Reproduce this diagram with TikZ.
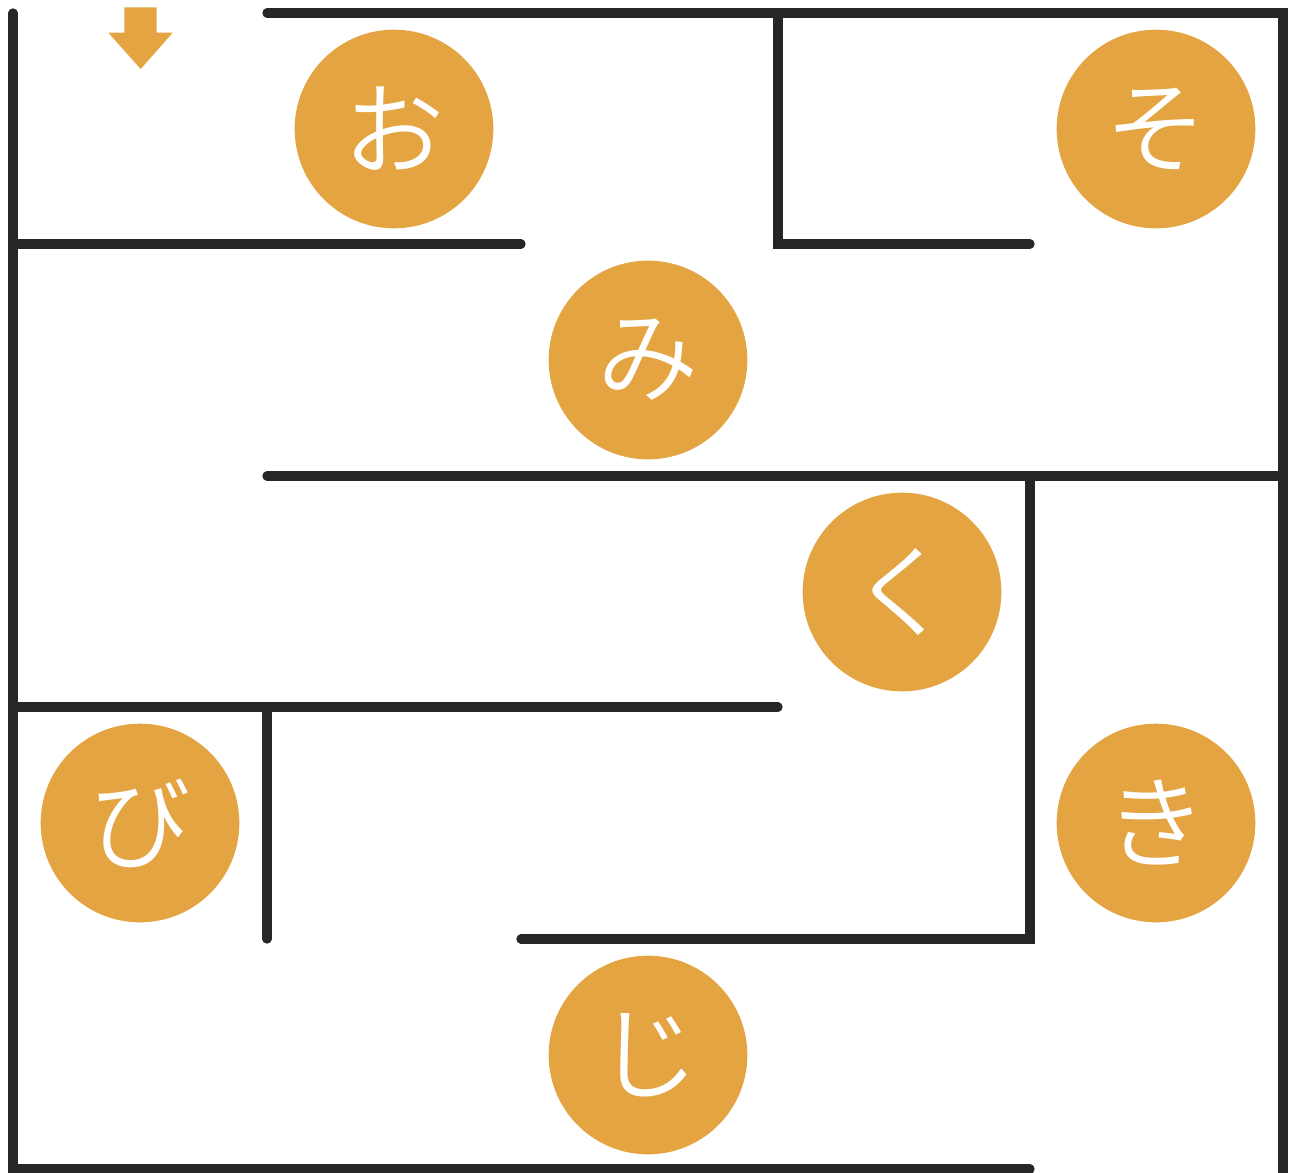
\documentclass[tikz,border=0pt]{standalone}
\usepackage{fontspec}
\IfFontExistsTF{Noto Sans CJK JP DemiLight}
  {\newfontfamily\jpfont{Noto Sans CJK JP DemiLight}}
  {\IfFontExistsTF{Noto Sans CJK JP Light}
    {\newfontfamily\jpfont{Noto Sans CJK JP Light}}
    {\newfontfamily\jpfont{Noto Sans CJK JP}}}
\definecolor{mazeorange}{HTML}{E3A441}
\definecolor{mazewall}{HTML}{262626}
\begin{document}
\begin{tikzpicture}[x=0.75pt,y=-0.75pt,
  wall/.style={draw=mazewall,line width=7pt,line cap=round,line join=miter},
  disc/.style={circle,fill=mazeorange,minimum size=149pt,inner sep=0pt,
    text=white,font=\jpfont\fontsize{76}{76}\selectfont}]
\useasboundingbox (0,0) rectangle (1291,1172);
% walls
\draw[wall] (13,13) -- (13,1169) -- (1030,1169);
\draw[wall] (267,13) -- (1283,13) -- (1283,1190);
\draw[wall] (13,244) -- (521,244);
\draw[wall] (778,13) -- (778,244) -- (1030,244);
\draw[wall] (267,476) -- (1283,476);
\draw[wall] (1030,476) -- (1030,939) -- (521,939);
\draw[wall] (13,707) -- (778,707);
\draw[wall] (267,707) -- (267,939);
% entry arrow
\fill[mazeorange] (124.3,7.3) -- (156.7,7.3) -- (156.7,32.7) -- (172.7,32.7)
  -- (140.7,69) -- (108.3,32.7) -- (124.3,32.7) -- cycle;
% letters
\node[disc] (o)  at (394,129)  {お};
\node[disc] (so) at (1156,129) {そ};
\node[disc] (mi) at (648,360)  {み};
\node[disc] (ku) at (902,592)  {く};
\node[disc] (bi) at (140,823)  {び};
\node[disc] (ki) at (1156,823) {き};
\node[disc] (ji) at (648,1055) {じ};
\end{tikzpicture}
\end{document}
